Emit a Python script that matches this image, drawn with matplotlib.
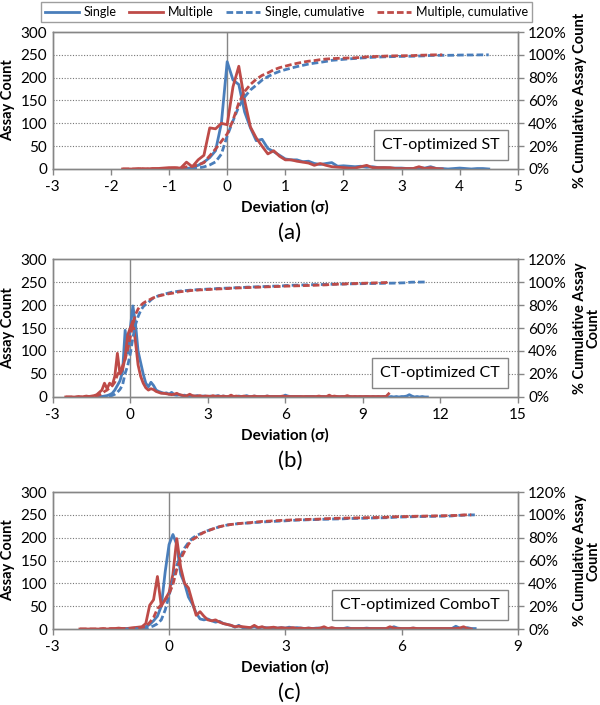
import numpy as np
import matplotlib
matplotlib.use("Agg")
import matplotlib.pyplot as plt
from matplotlib.lines import Line2D
from matplotlib.ticker import FuncFormatter

plt.rcParams["font.family"] = ["Lato", "DejaVu Sans"]
plt.rcParams["axes.unicode_minus"] = False

BLUE = "#4a7ebb"
RED = "#be4b48"
GRAY = "#868686"

# ---- panel (a): CT-optimized ST, bins of 0.1 sigma
a_single_start, a_single_end = -0.8, 4.5
a_single = [0, 1, 3, 8, 15, 25, 40, 100,
            235, 195, 185, 125, 90, 62, 65, 45, 38, 30,
            22, 20, 20, 16, 17, 12, 10, 12, 14, 6,
            7, 6, 5, 6, 4, 5, 3, 3, 2, 2,
            2, 1, 1, 3, 2, 5, 1, 1, 0, 1,
            2, 1, 0, 1, 1, 0]
a_multi_start, a_multi_end = -1.8, 3.7
a_multi = [0, 0, 0, 1, 0, 1, 1, 2,
           3, 3, 2, 15, 5, 20, 30, 90, 88, 100,
           97, 180, 225, 150, 92, 68, 50, 33, 40, 28,
           20, 20, 17, 15, 13, 8, 12, 8, 5, 4,
           3, 2, 2, 5, 8, 3, 3, 3, 3, 1,
           1, 1, 1, 5, 1, 3, 1, 0]

# ---- panel (b): CT-optimized CT
b_single_start, b_single_end = -1.2, 11.5
b_single = [0, 1, 2, 3, 5, 8, 15, 25, 35, 55, 145, 95,
            150, 198, 160, 100, 75, 50, 30, 22, 32, 25,
            15, 12, 10, 8, 9, 6, 10, 5, 4, 5,
            3, 4, 2, 3, 2, 2, 3, 1, 2, 2,
            1, 2, 1, 2, 3, 1, 2, 1, 1, 2,
            1, 1, 2, 1, 1, 3, 1, 1, 2, 1,
            1, 1, 1, 2, 1, 1, 1, 1, 1, 1,
            4, 2, 1, 1, 1, 1, 1, 0, 1, 1,
            1, 1, 0, 1, 1, 1, 0, 1, 1, 1,
            1, 0, 1, 1, 0, 1, 0, 1, 0, 1,
            0, 1, 1, 0, 1, 0, 1, 0, 1, 1,
            0, 1, 0, 1, 0, 1, 1, 2, 5, 2,
            0, 1, 0, 1, 0, 0]
b_multi_start, b_multi_end = -2.5, 10.0
b_multi = [0, 0, 0, 0, 0, 1, 0, 1, 2, 1, 2, 3,
           5, 10, 15, 30, 18, 30, 25, 45, 95, 50, 60, 85, 135,
           150, 165, 120, 70, 45, 30, 20, 15, 18, 16,
           12, 10, 8, 8, 7, 6, 5, 6, 8, 5,
           4, 2, 3, 6, 3, 2, 2, 3, 1, 2,
           2, 1, 3, 1, 2, 1, 2, 1, 1, 4,
           1, 2, 1, 1, 2, 1, 1, 1, 2, 1,
           1, 1, 1, 2, 1, 1, 1, 1, 1, 2,
           1, 1, 1, 1, 1, 1, 1, 1, 1, 1,
           1, 1, 1, 2, 1, 1, 1, 4, 1, 2,
           1, 1, 1, 1, 3, 1, 1, 1, 1, 1,
           1, 1, 1, 1, 1, 1, 1, 1, 1, 1,
           7]

# ---- panel (c): CT-optimized ComboT
c_single_start, c_single_end = -1.2, 7.9
c_single = [0, 0, 1, 1, 2, 3, 5, 10, 18, 28, 50, 125,
            185, 207, 185, 120, 100, 70, 55, 35, 22, 20,
            22, 18, 15, 17, 12, 10, 8, 4, 8, 3,
            2, 3, 5, 2, 4, 3, 2, 3, 2, 3,
            2, 4, 2, 3, 2, 1, 2, 1, 2, 2,
            1, 1, 2, 1, 1, 1, 3, 1, 1, 1,
            1, 2, 1, 1, 1, 1, 1, 1, 5, 2,
            1, 1, 1, 2, 1, 1, 1, 1, 1, 1,
            1, 1, 1, 1, 6, 2, 1, 3, 1, 1]
c_multi_start, c_multi_end = -2.3, 7.8
c_multi = [0, 0, 0, 0, 0, 0, 1, 0, 1, 1, 2, 1, 1, 2,
           3, 4, 5, 12, 52, 64, 115, 50, 65,
           80, 120, 198, 135, 100, 90, 60, 30, 38, 28,
           20, 18, 20, 15, 12, 10, 8, 5, 6, 5,
           4, 3, 8, 3, 5, 2, 3, 4, 2, 3,
           2, 2, 3, 1, 2, 1, 2, 1, 1, 2,
           5, 1, 3, 1, 1, 1, 1, 1, 1, 1,
           1, 1, 1, 1, 1, 1, 1, 5, 2, 1,
           1, 1, 1, 2, 1, 1, 1, 1, 1, 1,
           1, 1, 1, 1, 1, 2, 5, 1, 0]

panels = [
    dict(single=(a_single_start, a_single_end, a_single),
         multi=(a_multi_start, a_multi_end, a_multi),
         xlim=(-3, 5), xstep=1, name="CT-optimized ST", tag="(a)",
         rlabel="% Cumulative Assay Count",
         rect=[0.088, 0.7603, 0.775, 0.1943]),
    dict(single=(b_single_start, b_single_end, b_single),
         multi=(b_multi_start, b_multi_end, b_multi),
         xlim=(-3, 15), xstep=3, name="CT-optimized CT", tag="(b)",
         rlabel="% Cumulative Assay\nCount",
         rect=[0.088, 0.4369, 0.775, 0.1957]),
    dict(single=(c_single_start, c_single_end, c_single),
         multi=(c_multi_start, c_multi_end, c_multi),
         xlim=(-3, 9), xstep=3, name="CT-optimized ComboT", tag="(c)",
         rlabel="% Cumulative Assay\nCount",
         rect=[0.088, 0.1078, 0.775, 0.1943]),
]


def bins(start, end, vals):
    x = np.round(np.arange(start, end + 0.05, 0.1), 1)
    assert len(x) == len(vals), (start, end, len(x), len(vals))
    y = np.array(vals, dtype=float)
    return x, y, np.cumsum(y) / y.sum()


fig = plt.figure(figsize=(6, 7.05), dpi=100)
lw = 2.0
dash = (2.4, 1.1)

for p in panels:
    ax = fig.add_axes(p["rect"])
    ax2 = ax.twinx()
    xs, ys, cs = bins(*p["single"])
    xm, ym, cm = bins(*p["multi"])

    ax.axvline(0, color=GRAY, lw=1.0, zorder=1)
    ax.plot(xs, ys, color=BLUE, lw=lw, zorder=3)
    ax.plot(xm, ym, color=RED, lw=lw, zorder=3)
    ax2.plot(xs, cs, color=BLUE, lw=lw, dashes=dash)
    ax2.plot(xm, cm, color=RED, lw=lw, dashes=dash)

    ax.set_xlim(*p["xlim"])
    ax.set_xticks(np.arange(p["xlim"][0], p["xlim"][1] + 1, p["xstep"]))
    ax.set_ylim(0, 300)
    ax.set_yticks(range(0, 301, 50))
    ax2.set_ylim(0, 1.2)
    ax2.set_yticks(np.arange(0, 1.21, 0.2))
    ax2.yaxis.set_major_formatter(FuncFormatter(lambda v, _: f"{v*100:.0f}%"))
    for yv in range(50, 300, 50):
        ax.axhline(yv, color="#777777", lw=0.8, ls=(0, (1, 1.5)), zorder=0)

    for a in (ax, ax2):
        for s in a.spines.values():
            s.set_color(GRAY)
            s.set_linewidth(1.0)
        a.tick_params(colors=GRAY, labelcolor="black", labelsize=11,
                      length=4, width=1, direction="out")
    ax.tick_params(axis="y", length=0, pad=4)
    ax.tick_params(axis="x", pad=4)

    ax.set_ylabel("Assay Count", fontsize=10.5, fontweight="bold", labelpad=4)
    ax.set_xlabel("Deviation (σ)", fontsize=11, fontweight="bold", labelpad=4)
    ax2.set_ylabel(p["rlabel"], fontsize=10.5, fontweight="bold",
                   labelpad=4, linespacing=1.0)

    ax.annotate(p["name"], xy=(1, 0), xycoords="axes fraction",
                xytext=(-13, 12), textcoords="offset points",
                ha="right", va="bottom", fontsize=11.5,
                bbox=dict(boxstyle="square,pad=0.5", fc="white", ec=GRAY, lw=1.0),
                zorder=5)

    x0, y0, w, h = p["rect"]
    fig.text(0.483, y0 - 0.09, p["tag"], ha="center", va="center", fontsize=16)

handles = [
    Line2D([], [], color=BLUE, lw=lw),
    Line2D([], [], color=RED, lw=lw),
    Line2D([], [], color=BLUE, lw=lw, dashes=dash),
    Line2D([], [], color=RED, lw=lw, dashes=dash),
]
leg = fig.legend(handles, ["Single", "Multiple", "Single, cumulative", "Multiple, cumulative"],
                 loc="center", bbox_to_anchor=(0.4775, 1 - 12 / 705), ncol=4,
                 fontsize=9, frameon=True, fancybox=False, handlelength=2.7,
                 columnspacing=1.0, handletextpad=0.4, borderpad=0.3,
                 edgecolor=GRAY)
leg.get_frame().set_linewidth(1.0)

fig.savefig("out.png", dpi=100)
